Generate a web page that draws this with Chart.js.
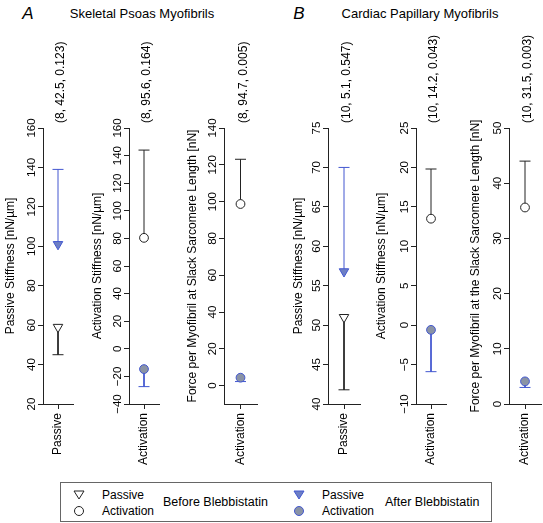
<!DOCTYPE html>
<html>
<head>
<meta charset="utf-8">
<script src="https://cdn.jsdelivr.net/npm/chart.js@4.4.0/dist/chart.umd.min.js"></script>
<style>
  html, body { margin: 0; padding: 0; background: #fff; overflow: hidden; }
  body { width: 543px; height: 523px; position: relative; font-family: 'Liberation Sans', Arial, sans-serif; color: #000; }
  canvas.panel { position: absolute; top: 0; }
  .c { position: absolute; white-space: nowrap; transform: translate(-50%, -50%); }
  .l { position: absolute; white-space: nowrap; transform: translate(0, -50%); font-size: 12px; }
  .mk { position: absolute; transform: translate(-50%, -50%); }
  #legendBox { position: absolute; left: 60px; top: 482px; width: 430px; height: 38px; border: 1px solid #666; }
</style>
</head>
<body>
<div class="c" style="left:28px;top:14px;font-size:17px;font-style:italic">A</div>
<div class="c" style="left:142px;top:13px;font-size:13px">Skeletal Psoas Myofibrils</div>
<div class="c" style="left:299px;top:14px;font-size:17px;font-style:italic">B</div>
<div class="c" style="left:420px;top:13px;font-size:13px">Cardiac Papillary Myofibrils</div>

<div id="legendBox"></div>
<svg class="mk" style="left:79px;top:495px" width="12" height="11"><polygon points="1,1.5 11,1.5 6,9.5" fill="#fff" stroke="#222" stroke-width="1"/></svg>
<div class="l" style="left:102px;top:495px">Passive</div>
<svg class="mk" style="left:79px;top:511px" width="12" height="12"><circle cx="6" cy="6" r="4.5" fill="#fff" stroke="#222" stroke-width="1"/></svg>
<div class="l" style="left:102px;top:511px">Activation</div>
<div class="l" style="left:163px;top:502px;font-size:12.5px">Before Blebbistatin</div>
<svg class="mk" style="left:299px;top:495px" width="12" height="11"><polygon points="1,1.5 11,1.5 6,9.5" fill="#6d7fc4" stroke="#4257d0" stroke-width="1"/></svg>
<div class="l" style="left:322px;top:495px">Passive</div>
<svg class="mk" style="left:299px;top:511px" width="12" height="12"><circle cx="6" cy="6" r="4.5" fill="#8a93a5" stroke="#4257d0" stroke-width="1"/></svg>
<div class="l" style="left:322px;top:511px">Activation</div>
<div class="l" style="left:385px;top:502px;font-size:12.5px">After Blebbistatin</div>

<script>
// values, one entry per panel (A: 3 panels, B: 3 panels)
const categories = ['Passive', 'Activation', 'Activation', 'Passive', 'Activation', 'Activation'];
const yTitles = [
  'Passive Stiffness [nN/\u00b5m]',
  'Activation Stiffness [nN/\u00b5m]',
  'Force per Myofibril at Slack Sarcomere Length [nN]',
  'Passive Stiffness [nN/\u00b5m]',
  'Activation Stiffness [nN/\u00b5m]',
  'Force per Myofibril at the Slack Sarcomere Length [nN]'
];
const notes = ['(8, 42.5, 0.123)', '(8, 95.6, 0.164)', '(8, 94.7, 0.005)',
               '(10, 5.1, 0.547)', '(10, 14.2, 0.043)', '(10, 31.5, 0.003)'];
const beforeMean = [59, 80.4, 98.7, 51, 13.5, 35.6];
const beforeErr  = [45, 144, 123, 41.8, 19.8, 44];
const afterMean  = [101, -14.7, 4.3, 56.8, -0.6, 4.1];
const afterErr   = [139, -27.4, 2.2, 70, -5.9, 3];
const yMin  = [20, -40, -10, 40, -10, 0];
const yMax  = [160, 160, 140, 75, 25, 50];
const yStep = [20, 20, 20, 5, 5, 10];

// layout per panel
const axisX    = [43, 129, 224, 328, 416, 509];
const plotW    = [30, 30, 33, 32, 30, 32];
const titlePad = [3, 4, 4, 6, 1, 2];
const tickPad  = [-3.6, -3.7, -3.6, -0.4, -3.7, -0.4];

const BLACK = '#222';
const BLUE = '#4257d0';
const Y_W = 43;

Chart.defaults.font.family = "'Liberation Sans', Arial, sans-serif";
Chart.defaults.font.size = 12;
Chart.defaults.color = '#000';

const notePlugin = {
  id: 'note',
  afterDraw(chart, args, opts) {
    const ctx = chart.ctx;
    const x = chart.scales.x.getPixelForValue(0) + 3;
    const y = chart.chartArea.top - 5;
    ctx.save();
    ctx.translate(x, y);
    ctx.rotate(-Math.PI / 2);
    ctx.font = "12px 'Liberation Sans', Arial, sans-serif";
    ctx.fillStyle = '#000';
    ctx.textAlign = 'left';
    ctx.textBaseline = 'middle';
    ctx.fillText(opts.text, 0, 0);
    ctx.restore();
  }
};

categories.forEach(function(cat, i) {
  const cv = document.createElement('canvas');
  cv.className = 'panel';
  cv.width = Y_W + plotW[i] + 12;
  cv.height = 480;
  cv.style.left = (axisX[i] - Y_W) + 'px';
  document.body.appendChild(cv);

  const passive = cat === 'Passive';
  const style = passive ? 'triangle' : 'circle';
  const rot = passive ? 180 : 0;
  const rad = passive ? 5.5 : 4.4;

  new Chart(cv, {
    type: 'line',
    data: {
      labels: [cat],
      datasets: [
        {
          data: [{x: cat, y: beforeMean[i]}],
          pointStyle: style, pointRotation: rot, pointRadius: rad,
          pointBackgroundColor: '#fff', pointBorderColor: BLACK, pointBorderWidth: 1
        },
        {
          data: [{x: cat, y: afterMean[i]}],
          pointStyle: style, pointRotation: rot, pointRadius: rad,
          pointBackgroundColor: passive ? '#6d7fc4' : '#8a93a5', pointBorderColor: BLUE, pointBorderWidth: 1
        },
        {
          data: [{x: cat, y: beforeMean[i]}, {x: cat, y: beforeErr[i]}],
          borderColor: BLACK, borderWidth: 1, tension: 0, fill: false,
          pointStyle: 'line', pointRadius: [0, 5.5], pointBorderColor: BLACK, pointBorderWidth: 1
        },
        {
          data: [{x: cat, y: afterMean[i]}, {x: cat, y: afterErr[i]}],
          borderColor: BLUE, borderWidth: 1, tension: 0, fill: false,
          pointStyle: 'line', pointRadius: [0, 5.5], pointBorderColor: BLUE, pointBorderWidth: 1
        }
      ]
    },
    options: {
      responsive: false,
      animation: false,
      events: [],
      layout: { padding: { top: 128, right: 12, bottom: 0, left: 0 } },
      scales: {
        x: {
          type: 'category',
          offset: true,
          ticks: { minRotation: 90, maxRotation: 90, padding: 4, color: '#000', font: { size: 12 } },
          grid: { drawOnChartArea: false, tickLength: 5, color: BLACK, offset: false },
          border: { display: true, color: BLACK },
          afterFit: function(s) { s.height = 76; }
        },
        y: {
          min: yMin[i],
          max: yMax[i],
          ticks: {
            stepSize: yStep[i],
            includeBounds: false,
            minRotation: 90, maxRotation: 90,
            crossAlign: 'center',
            padding: tickPad[i],
            color: '#000',
            font: { size: 11.5 },
            callback: function(v) { return String(v).replace('-', '\u2212'); }
          },
          grid: { drawOnChartArea: false, tickLength: 5, color: BLACK },
          border: { display: true, color: BLACK },
          title: {
            display: true,
            text: yTitles[i],
            color: '#000',
            font: { size: 12 },
            padding: { top: titlePad[i], bottom: 0 }
          },
          afterFit: function(s) { s.width = Y_W; }
        }
      },
      plugins: {
        legend: { display: false },
        tooltip: { enabled: false },
        note: { text: notes[i] }
      }
    },
    plugins: [notePlugin]
  });
});
</script>
</body>
</html>
